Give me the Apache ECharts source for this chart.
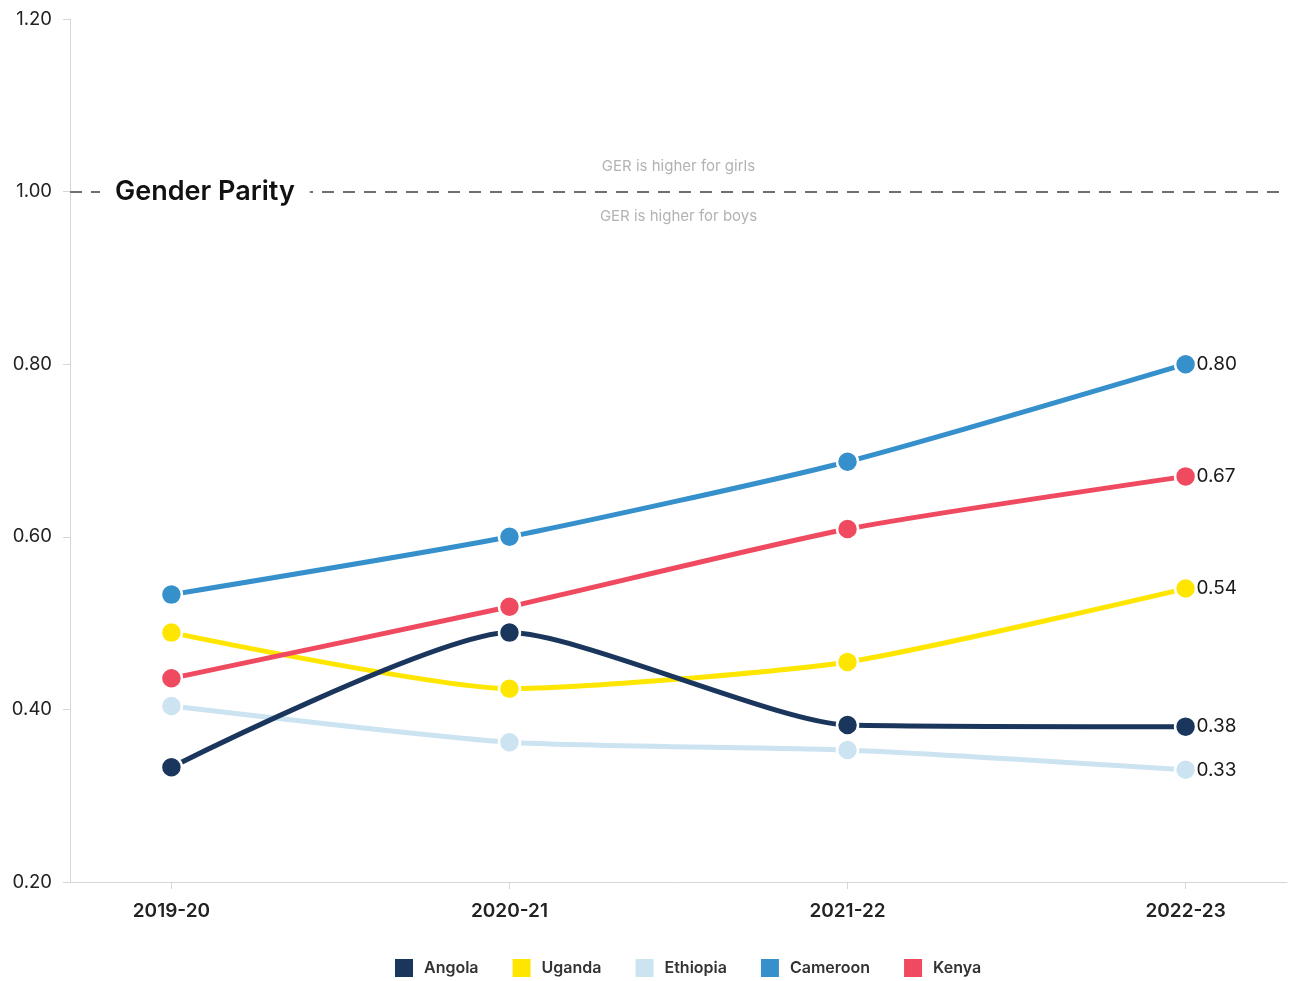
<!DOCTYPE html>
<html>
<head>
<meta charset="utf-8">
<script src="https://cdn.jsdelivr.net/npm/echarts@6/dist/echarts.min.js"></script>
<style>
  html, body { margin: 0; padding: 0; background: #fff; }
  #chart { width: 1293px; height: 981px; }
</style>
</head>
<body>
<div id="chart"></div>
<script>
// School years along the x axis
const years = ['2019-20', '2020-21', '2021-22', '2022-23'];

// Gender parity index of GER per country
const angola   = [0.333, 0.489, 0.382, 0.38];
const uganda   = [0.489, 0.424, 0.455, 0.54];
const ethiopia = [0.404, 0.362, 0.353, 0.33];
const cameroon = [0.533, 0.600, 0.687, 0.80];
const kenya    = [0.436, 0.519, 0.609, 0.67];

const yTicks = [0.2, 0.4, 0.6, 0.8, 1.0, 1.2];
const parityValue = 1.0;

const FONT = 'Inter, "Open Sans", sans-serif';

// drawing order: higher z sits on top
const countries = [
  { name: 'Angola',   values: angola,   color: '#1b365d', z: 7 },
  { name: 'Uganda',   values: uganda,   color: '#ffe600', z: 4 },
  { name: 'Ethiopia', values: ethiopia, color: '#cce3f2', z: 3 },
  { name: 'Cameroon', values: cameroon, color: '#3590cc', z: 5 },
  { name: 'Kenya',    values: kenya,    color: '#ef4a60', z: 6 }
];

const series = countries.map(c => ({
  name: c.name,
  type: 'line',
  data: c.values.map((v, i) => [i, v]),
  smooth: 0.2,
  symbol: 'circle',
  symbolSize: 21,
  color: c.color,
  lineStyle: { width: 5, color: c.color },
  itemStyle: { color: c.color, borderColor: '#fff', borderWidth: 2.5 },
  emphasis: { disabled: true },
  endLabel: {
    show: true,
    distance: 11,
    color: '#1a1a1a',
    fontSize: 19,
    fontFamily: FONT,
    formatter: p => p.value[1].toFixed(2)
  },
  z: c.z
}));

// Parity reference line with its annotations
const hiddenLine = { color: 'rgba(0,0,0,0)', width: 0 };
series.push({
  name: 'parity',
  type: 'line',
  data: [],
  silent: true,
  markLine: {
    symbol: 'none',
    silent: true,
    animation: false,
    data: [
      {
        yAxis: parityValue,
        lineStyle: { color: '#707070', width: 2, type: [12, 9] },
        label: {
          show: true,
          position: 'insideStart',
          distance: 30,
          formatter: 'Gender Parity',
          color: '#111',
          fontSize: 27,
          fontWeight: 600,
          fontFamily: FONT,
          backgroundColor: '#fff',
          padding: [4, 15]
        }
      },
      {
        yAxis: parityValue,
        lineStyle: hiddenLine,
        label: {
          show: true,
          position: 'insideMiddleTop',
          distance: 18,
          formatter: 'GER is higher for girls',
          color: '#b3b3b3',
          fontSize: 15,
          fontFamily: FONT
        }
      },
      {
        yAxis: parityValue,
        lineStyle: hiddenLine,
        label: {
          show: true,
          position: 'insideMiddleBottom',
          distance: 17,
          formatter: 'GER is higher for boys',
          color: '#b3b3b3',
          fontSize: 15,
          fontFamily: FONT
        }
      }
    ]
  },
  z: 1
});

const chart = echarts.init(document.getElementById('chart'), null, { renderer: 'canvas' });
chart.setOption({
  animation: false,
  backgroundColor: '#fff',
  textStyle: { fontFamily: FONT },
  grid: { left: 70, right: 6, top: 19, bottom: 99, containLabel: false },
  legend: {
    bottom: 2,
    left: 393,
    padding: 0,
    icon: 'rect',
    itemWidth: 20,
    itemHeight: 20,
    itemGap: 32,
    data: countries.map(c => c.name),
    textStyle: { color: '#333', fontSize: 16, fontWeight: 600, fontFamily: FONT, padding: [0, 0, 0, 5] }
  },
  xAxis: {
    type: 'value',
    min: -0.3,
    max: 3.3,
    splitLine: { show: false },
    axisLine: { show: true, onZero: false, lineStyle: { color: '#d6d6d6', width: 1 } },
    axisTick: { show: true, customValues: years.map((_, i) => i), length: 7, lineStyle: { color: '#d6d6d6' } },
    axisLabel: {
      customValues: years.map((_, i) => i),
      formatter: v => years[Math.round(v)] || '',
      color: '#222',
      fontSize: 19,
      fontWeight: 600,
      fontFamily: FONT,
      margin: 20
    }
  },
  yAxis: {
    type: 'value',
    min: yTicks[0],
    max: yTicks[yTicks.length - 1],
    interval: 0.2,
    splitLine: { show: false },
    axisLine: { show: true, onZero: false, lineStyle: { color: '#d6d6d6', width: 1 } },
    axisTick: { show: true, length: 7, lineStyle: { color: '#d6d6d6' } },
    axisLabel: {
      formatter: v => v.toFixed(2),
      color: '#222',
      fontSize: 18.5,
      fontFamily: FONT,
      margin: 18
    }
  },
  series: series
});
</script>
</body>
</html>
